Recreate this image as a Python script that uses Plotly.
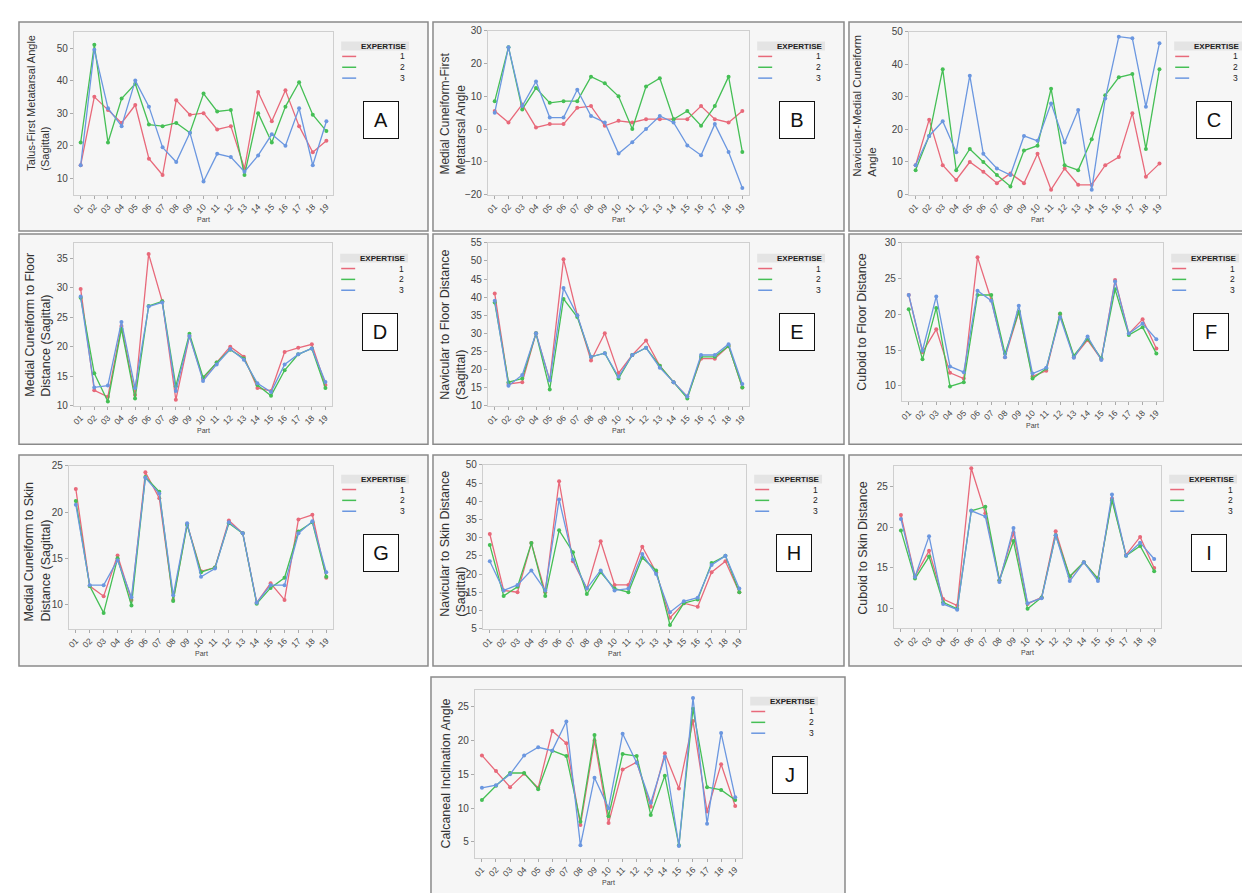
import plotly.graph_objects as go

W, H = 1250, 893

parts = ["01", "02", "03", "04", "05", "06", "07", "08", "09", "10",
         "11", "12", "13", "14", "15", "16", "17", "18", "19"]
expertise = ["1", "2", "3"]

# A: Talus-First Metatarsal Angle (Sagittal)
A_1 = [14, 35, 31, 27, 32.5, 16, 11, 34, 29.5, 30, 25, 26, 13, 36.5, 27.5, 37, 26, 18, 21.5]
A_2 = [21, 51, 21, 34.5, 39, 26.5, 26, 27, 24, 36, 30.5, 31, 11, 30, 21, 32, 39.5, 29.5, 24.5]
A_3 = [14, 49.5, 31.5, 26, 40, 32, 19.5, 15, 24, 9, 17.5, 16.5, 12, 17, 23.5, 20, 31.5, 14, 27.5]
# B: Medial Cuneiform-First Metatarsal Angle
B_1 = [5.5, 2, 7.5, 0.5, 1.5, 1.5, 6.5, 7, 1, 2.5, 2, 3, 3, 3, 3, 7, 3, 2, 5.5]
B_2 = [8.5, 25, 6, 12.5, 8, 8.5, 8.5, 16, 14, 10, 0, 13, 15.5, 3, 5.5, 1, 7, 16, -7]
B_3 = [5, 25, 7, 14.5, 3.5, 3.5, 12, 4, 2, -7.5, -4, 0, 4, 2, -5, -8, 1.5, -7, -18]
# C: Navicular-Medial Cuneiform Angle
C_1 = [9, 23, 9, 4.5, 10, 7, 3.5, 6.5, 3.5, 12.5, 1.5, 8, 3, 3, 9, 11.5, 25, 5.5, 9.5]
C_2 = [7.5, 18, 38.5, 7.5, 14, 10, 6, 2.5, 13.5, 15, 32.5, 9, 7.5, 17, 30.5, 36, 37, 14, 38.5]
C_3 = [9, 18, 22.5, 13, 36.5, 12.5, 8, 6, 18, 16.5, 28, 16, 26, 1.5, 29.5, 48.5, 48, 27, 46.5]
# D: Medial Cuneiform to Floor Distance (Sagittal)
D_1 = [29.8, 12.6, 11.5, 23.5, 11.8, 35.7, 27.7, 11, 21.8, 14.5, 17.3, 20, 18.3, 13, 12.5, 19.1, 19.8, 20.4, 13.5]
D_2 = [28.3, 15.5, 10.7, 23, 11.2, 26.9, 27.7, 13.3, 22.2, 14.8, 17.3, 19.5, 18, 13.5, 11.7, 16, 18.7, 19.7, 13]
D_3 = [28.5, 13.1, 13.4, 24.2, 13, 26.8, 27.5, 12.5, 21.8, 14.2, 17, 19.6, 17.8, 13.8, 12.3, 17, 18.7, 19.7, 14]
# E: Navicular to Floor Distance (Sagittal)
E_1 = [41, 16, 16.5, 30, 17, 50.5, 35, 22.5, 30, 19, 24, 28, 21, 16.5, 12.5, 23, 23, 26.5, 15]
E_2 = [38.5, 16.5, 17.5, 30, 14.5, 39.5, 34.5, 23.5, 24.5, 17.5, 24, 26, 21, 16.5, 12, 23.5, 23.5, 26.5, 15]
E_3 = [39, 15.5, 18.5, 30, 17, 42.5, 35, 23.5, 24.5, 18, 24, 26, 20.5, 16.5, 12.5, 24, 24, 27, 16]
# F: Cuboid to Floor Distance
F_1 = [22.7, 14.7, 17.9, 11.8, 11, 28, 22, 14, 20.3, 11.3, 12.1, 20, 14, 16.4, 13.7, 24.8, 17.3, 19.3, 15.2]
F_2 = [20.7, 13.7, 20.9, 9.9, 10.5, 22.7, 22.7, 14.5, 20.4, 11, 12.4, 20.1, 14.2, 16.6, 13.8, 23.5, 17.1, 18.2, 14.5]
F_3 = [22.7, 14.9, 22.5, 12.7, 11.9, 23.3, 21.9, 14, 21.2, 11.7, 12.5, 19.6, 13.9, 16.9, 13.6, 24.6, 17.3, 18.7, 16.5]
# G: Medial Cuneiform to Skin Distance (Sagittal)
G_1 = [22.5, 12, 10.9, 15.3, 10.5, 24.3, 21.5, 10.5, 18.7, 13.6, 14, 19.1, 17.7, 10.2, 12.3, 10.5, 19.2, 19.7, 12.9]
G_2 = [21.2, 12, 9.1, 15, 9.9, 23.8, 22.2, 10.4, 18.6, 13.5, 14, 18.8, 17.7, 10.1, 11.8, 12.9, 17.9, 18.9, 13]
G_3 = [20.8, 12.1, 12.1, 14.8, 10.8, 23.7, 22, 11, 18.8, 13, 13.9, 18.9, 17.7, 10.2, 12.1, 12.1, 17.7, 19, 13.5]
# H: Navicular to Skin Distance (Sagittal)
H_1 = [31, 15.5, 15, 28.5, 15, 45.5, 23.5, 16, 29, 17, 17, 27.5, 20.5, 8, 12, 11, 20.5, 23.5, 15]
H_2 = [28, 14, 16.5, 28.5, 14, 32, 26, 14.5, 20.5, 16, 15, 24.5, 21, 6, 12, 13, 23, 25, 15]
H_3 = [23.5, 15.5, 17, 21, 15.5, 40.5, 24, 16, 21, 15.5, 16, 25.5, 20, 9.5, 12.5, 13.5, 22.5, 25, 16]
# I: Cuboid to Skin Distance
I_1 = [21.5, 14, 17.1, 11.2, 10.4, 27.2, 21.7, 13.5, 19.3, 10.6, 11.4, 19.5, 13.9, 15.7, 13.7, 23.5, 16.6, 18.8, 15]
I_2 = [19.6, 13.7, 16.4, 10.8, 10, 22, 22.5, 13.5, 18.3, 10, 11.4, 19, 14, 15.7, 13.7, 23.3, 16.5, 17.7, 14.6]
I_3 = [21, 13.9, 18.9, 10.6, 9.9, 22, 21.3, 13.3, 19.9, 10.7, 11.3, 19, 13.4, 15.7, 13.4, 24, 16.5, 18.1, 16.1]
# J: Calcaneal Inclination Angle
J_1 = [17.8, 15.5, 13.1, 15.1, 13, 21.4, 19.6, 7.5, 20, 7.8, 15.7, 16.8, 10.2, 18.1, 12.9, 22.9, 9.5, 16.5, 10.3]
J_2 = [11.2, 13.3, 15.2, 15.2, 12.8, 18.5, 17.7, 8, 20.8, 8.8, 18, 17.7, 9, 14.8, 4.5, 24.7, 13.1, 12.7, 11.2]
J_3 = [13, 13.4, 15, 17.8, 19, 18.5, 22.8, 4.5, 14.5, 10, 21, 16.7, 10.8, 17.6, 4.4, 26.3, 7.7, 21.1, 11.6]

titles = {
    "A": "Talus-First Metatarsal Angle<br>(Sagittal)",
    "B": "Medial Cuneiform-First<br>Metatarsal Angle",
    "C": "Navicular-Medial Cuneiform<br>Angle",
    "D": "Medial Cuneiform to Floor<br>Distance (Sagittal)",
    "E": "Navicular to Floor Distance<br>(Sagittal)",
    "F": "Cuboid to Floor Distance",
    "G": "Medial Cuneiform to Skin<br>Distance (Sagittal)",
    "H": "Navicular to Skin Distance<br>(Sagittal)",
    "I": "Cuboid to Skin Distance",
    "J": "Calcaneal Inclination Angle",
}
series = {
    "A": [A_1, A_2, A_3], "B": [B_1, B_2, B_3], "C": [C_1, C_2, C_3],
    "D": [D_1, D_2, D_3], "E": [E_1, E_2, E_3], "F": [F_1, F_2, F_3],
    "G": [G_1, G_2, G_3], "H": [H_1, H_2, H_3], "I": [I_1, I_2, I_3],
    "J": [J_1, J_2, J_3],
}

# layout geometry (pixels): panel box, plot box, y-range, dtick, y-title center, title size
geom = {
    "A": dict(panel=(8, 8, 418, 220), plot=(63, 18, 323, 183), yr=(5, 55), dt=10, tc=(27, 90), fs=11),
    "B": dict(panel=(423, 8, 835, 220), plot=(478, 17, 740, 183), yr=(-20, 30), dt=10, tc=(443, 101), fs=12),
    "C": dict(panel=(840, 8, 1248, 220), plot=(900, 18, 1158, 183), yr=(0, 50), dt=10, tc=(856, 93), fs=11.5),
    "D": dict(panel=(8, 223, 418, 436), plot=(63, 232, 322, 397), yr=(10, 37.6), dt=5, tc=(27, 315), fs=12.5),
    "E": dict(panel=(423, 223, 835, 436), plot=(478, 232, 740, 397), yr=(10, 55), dt=5, tc=(443, 315), fs=12.5),
    "F": dict(panel=(840, 223, 1248, 436), plot=(893, 232, 1155, 392), yr=(7.9, 30), dt=5, tc=(853, 312), fs=12.5),
    "G": dict(panel=(8, 447, 418, 661), plot=(58, 458, 323, 623), yr=(7.4, 25), dt=5, tc=(26, 545), fs=12.5),
    "H": dict(panel=(423, 447, 835, 661), plot=(473, 457, 737, 623), yr=(5, 50), dt=5, tc=(443, 537), fs=12.5),
    "I": dict(panel=(840, 447, 1248, 661), plot=(885, 458, 1153, 622), yr=(7.7, 27.5), dt=5, tc=(854, 541), fs=12.5),
    "J": dict(panel=(421, 672, 836, 892), plot=(465, 685, 733, 855), yr=(2.7, 27.5), dt=5, tc=(436, 770), fs=12.5),
}

colors = ["#e8697a", "#45bf55", "#6b97e0"]
FONT = "Liberation Sans, Arial, sans-serif"


def px(x):
    return x / W


def py(y):
    return 1 - y / H


fig = go.Figure()
shapes = []
annotations = []
layout_axes = {}

for i, key in enumerate("ABCDEFGHIJ", start=1):
    g = geom[key]
    xa = "x" if i == 1 else f"x{i}"
    ya = "y" if i == 1 else f"y{i}"
    xname = "xaxis" if i == 1 else f"xaxis{i}"
    yname = "yaxis" if i == 1 else f"yaxis{i}"
    for s, vals in enumerate(series[key]):
        fig.add_trace(go.Scatter(
            x=parts, y=vals, mode="lines+markers", xaxis=xa, yaxis=ya,
            name=expertise[s], showlegend=False,
            line=dict(color=colors[s], width=1.3),
            marker=dict(color=colors[s], size=4),
        ))
    x0, y0, x1, y1 = g["plot"]
    layout_axes[xname] = dict(
        domain=[px(x0), px(x1)], anchor=ya, type="category",
        categoryorder="array", categoryarray=parts, range=[-0.5, 18.5],
        tickangle=-45, tickfont=dict(size=8.5, color="#444", family=FONT),
        showline=True, mirror=True, linecolor="#cfcfcf", linewidth=1,
        ticks="outside", ticklen=3, tickcolor="#aaa", showgrid=False, zeroline=False,
    )
    layout_axes[yname] = dict(
        domain=[py(y1), py(y0)], anchor=xa, range=list(g["yr"]), dtick=g["dt"],
        tick0=0, tickfont=dict(size=10, color="#444", family=FONT),
        showline=True, mirror=True, linecolor="#cfcfcf", linewidth=1,
        ticks="outside", ticklen=3, tickcolor="#aaa", showgrid=False, zeroline=False,
    )
    # panel frame
    p0, q0, p1, q1 = g["panel"]
    shapes.append(dict(type="rect", xref="paper", yref="paper", layer="below",
                       x0=px(p0), x1=px(p1), y0=py(q1), y1=py(q0),
                       fillcolor="#f6f6f6", line=dict(color="#8a8a8a", width=1.5)))
    # y title
    tx, tyy = g["tc"]
    annotations.append(dict(xref="paper", yref="paper", x=px(tx), y=py(tyy),
                            text=titles[key], textangle=-90, showarrow=False,
                            xanchor="center", yanchor="middle", align="left",
                            font=dict(size=g["fs"], color="#333", family=FONT)))
    # x title
    annotations.append(dict(xref="paper", yref="paper", x=px((x0 + x1) / 2), y=py(y1 + 25),
                            text="Part", showarrow=False, xanchor="center", yanchor="middle",
                            font=dict(size=7, color="#444", family=FONT)))
    # legend
    lx = x1 + 8
    shapes.append(dict(type="rect", xref="paper", yref="paper", layer="below",
                       x0=px(lx), x1=px(lx + 68), y0=py(q0 + 29), y1=py(q0 + 20),
                       fillcolor="#e4e4e4", line=dict(width=0)))
    annotations.append(dict(xref="paper", yref="paper", x=px(lx + 68), y=py(q0 + 24.5),
                            text="<b>EXPERTISE</b>", showarrow=False, xanchor="right",
                            yanchor="middle", font=dict(size=8, color="#222", family=FONT)))
    for s in range(3):
        ly = q0 + 35 + 11 * s
        shapes.append(dict(type="line", xref="paper", yref="paper",
                           x0=px(lx + 1), x1=px(lx + 15), y0=py(ly), y1=py(ly),
                           line=dict(color=colors[s], width=1.5)))
        annotations.append(dict(xref="paper", yref="paper", x=px(lx + 66), y=py(ly),
                                text=expertise[s], showarrow=False, xanchor="right",
                                yanchor="middle", font=dict(size=8.5, color="#222", family=FONT)))
    # letter box
    annotations.append(dict(xref="paper", yref="paper", x=px(x1 + 48), y=py(q0 + 99),
                            text=key, showarrow=False, xanchor="center", yanchor="middle",
                            width=30, height=32, bgcolor="white", bordercolor="#111",
                            borderwidth=1, borderpad=2,
                            font=dict(size=20, color="#111", family=FONT)))

fig.update_layout(
    width=W, height=H, margin=dict(l=0, r=0, t=0, b=0),
    paper_bgcolor="white", plot_bgcolor="white",
    shapes=shapes, annotations=annotations, showlegend=False,
    **layout_axes,
)

fig.write_html("out.html")
